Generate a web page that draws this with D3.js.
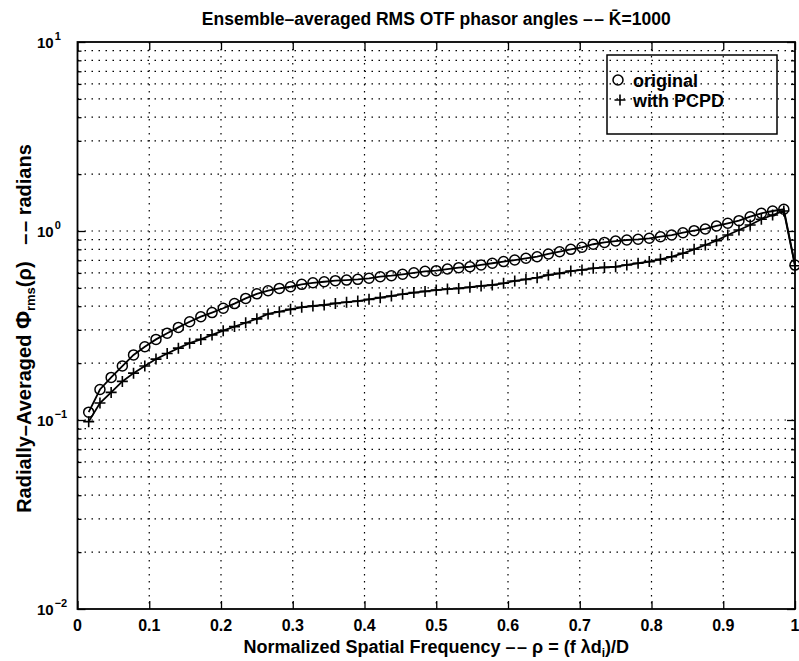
<!DOCTYPE html>
<html>
<head>
<meta charset="utf-8">
<script src="https://cdn.jsdelivr.net/npm/d3@7"></script>
<style>
  body { margin: 0; background: #fff; }
  svg { display: block; }
  text { font-family: "Liberation Sans", Arial, Helvetica, sans-serif; fill: #000; font-weight: bold; }
</style>
</head>
<body>
<svg id="chart" width="799" height="661"></svg>
<script>
// Normalized spatial frequency samples (rho)
const rho = [
  0.0156, 0.0313, 0.0469, 0.0625, 0.0781, 0.0938, 0.1094, 0.1250,
  0.1406, 0.1563, 0.1719, 0.1875, 0.2031, 0.2188, 0.2344, 0.2500,
  0.2656, 0.2813, 0.2969, 0.3125, 0.3281, 0.3438, 0.3594, 0.3750,
  0.3906, 0.4063, 0.4219, 0.4375, 0.4531, 0.4688, 0.4844, 0.5000,
  0.5156, 0.5313, 0.5469, 0.5625, 0.5781, 0.5938, 0.6094, 0.6250,
  0.6406, 0.6563, 0.6719, 0.6875, 0.7031, 0.7188, 0.7344, 0.7500,
  0.7656, 0.7813, 0.7969, 0.8125, 0.8281, 0.8438, 0.8594, 0.8750,
  0.8906, 0.9063, 0.9219, 0.9375, 0.9531, 0.9688, 0.9844, 1.0000
];

// Radially averaged RMS phasor angle, radians
const phiOriginal = [
  0.110, 0.145, 0.168, 0.193, 0.221, 0.244, 0.267, 0.288,
  0.309, 0.331, 0.352, 0.370, 0.390, 0.413, 0.440, 0.465,
  0.483, 0.497, 0.507, 0.522, 0.532, 0.539, 0.546, 0.550,
  0.555, 0.562, 0.573, 0.580, 0.590, 0.601, 0.612, 0.617,
  0.629, 0.640, 0.647, 0.661, 0.675, 0.689, 0.702, 0.717,
  0.731, 0.756, 0.777, 0.800, 0.820, 0.851, 0.870, 0.885,
  0.896, 0.904, 0.915, 0.933, 0.952, 0.979, 1.004, 1.025,
  1.063, 1.099, 1.134, 1.190, 1.241, 1.276, 1.303, 0.660
];

const phiPCPD = [
  0.098, 0.123, 0.140, 0.160, 0.177, 0.193, 0.210, 0.225,
  0.240, 0.255, 0.267, 0.282, 0.297, 0.312, 0.327, 0.343,
  0.364, 0.374, 0.385, 0.395, 0.401, 0.406, 0.414, 0.420,
  0.426, 0.435, 0.444, 0.453, 0.463, 0.472, 0.479, 0.487,
  0.493, 0.497, 0.504, 0.512, 0.518, 0.529, 0.544, 0.555,
  0.566, 0.585, 0.597, 0.614, 0.622, 0.635, 0.642, 0.647,
  0.661, 0.675, 0.689, 0.708, 0.731, 0.762, 0.800, 0.843,
  0.889, 0.952, 1.012, 1.076, 1.153, 1.215, 1.276, 0.655
];

const xTicks = [0, 0.1, 0.2, 0.3, 0.4, 0.5, 0.6, 0.7, 0.8, 0.9, 1];
const xTickLabels = ["0", "0.1", "0.2", "0.3", "0.4", "0.5", "0.6", "0.7", "0.8", "0.9", "1"];
const yDecades = [1e-2, 1e-1, 1e0, 1e1];
const yExponents = ["\u22122", "\u22121", "0", "1"];
const seriesNames = ["original", "with PCPD"];

const svg = d3.select("#chart");
const plot = { left: 77.5, right: 795, top: 42, bottom: 609 };

const x = d3.scaleLinear().domain([0, 1]).range([plot.left, plot.right]);
const y = d3.scaleLog().domain([1e-2, 1e1]).range([plot.bottom, plot.top]);

const allLogTicks = y.ticks();
const minorTicks = allLogTicks.filter(v => !yDecades.some(d => Math.abs(v / d - 1) < 1e-9));

// Dotted grid
const grid = svg.append("g")
  .attr("stroke", "#000")
  .attr("stroke-width", 1.2)
  .attr("stroke-dasharray", "1.5,5.5")
  .attr("fill", "none");

grid.selectAll("line.h")
  .data(allLogTicks.filter(v => v > 1e-2 * 1.0001 && v < 1e1 * 0.9999))
  .join("line")
  .attr("x1", plot.left).attr("x2", plot.right)
  .attr("y1", d => y(d)).attr("y2", d => y(d));

grid.selectAll("line.v")
  .data(xTicks.filter(v => v > 0 && v < 1))
  .join("line")
  .attr("y1", plot.top).attr("y2", plot.bottom)
  .attr("x1", d => x(d)).attr("x2", d => x(d));

// Axes ticks (pointing inward) on all four sides
const axisStyle = g => g.call(s => s.select(".domain").remove())
  .call(s => s.selectAll("line").attr("stroke", "#000").attr("stroke-width", 1.3));

svg.append("g").attr("transform", `translate(0,${plot.bottom})`)
  .call(d3.axisBottom(x).tickValues(xTicks).tickSize(-8).tickFormat(""))
  .call(axisStyle);
svg.append("g").attr("transform", `translate(0,${plot.top})`)
  .call(d3.axisTop(x).tickValues(xTicks).tickSize(-8).tickFormat(""))
  .call(axisStyle);
svg.append("g").attr("transform", `translate(${plot.left},0)`)
  .call(d3.axisLeft(y).tickValues(yDecades).tickSize(-8).tickFormat(""))
  .call(axisStyle);
svg.append("g").attr("transform", `translate(${plot.left},0)`)
  .call(d3.axisLeft(y).tickValues(minorTicks).tickSize(-4).tickFormat(""))
  .call(axisStyle);
svg.append("g").attr("transform", `translate(${plot.right},0)`)
  .call(d3.axisRight(y).tickValues(yDecades).tickSize(-8).tickFormat(""))
  .call(axisStyle);
svg.append("g").attr("transform", `translate(${plot.right},0)`)
  .call(d3.axisRight(y).tickValues(minorTicks).tickSize(-4).tickFormat(""))
  .call(axisStyle);

// Axes box
svg.append("rect")
  .attr("x", plot.left).attr("y", plot.top)
  .attr("width", plot.right - plot.left).attr("height", plot.bottom - plot.top)
  .attr("fill", "none").attr("stroke", "#000").attr("stroke-width", 1.8);

// X tick labels
svg.append("g").selectAll("text")
  .data(xTicks)
  .join("text")
  .attr("x", d => x(d))
  .attr("y", plot.bottom + 22)
  .attr("text-anchor", "middle")
  .attr("font-size", 16)
  .text((d, i) => xTickLabels[i]);

// Y tick labels as powers of ten
const yl = svg.append("g").selectAll("text")
  .data(yDecades)
  .join("text")
  .attr("x", 37)
  .attr("y", d => y(d) + 6)
  .attr("font-size", 15);
yl.append("tspan").text("10");
yl.append("tspan")
  .attr("dy", -8)
  .attr("dx", 1)
  .attr("font-size", 11)
  .text((d, i) => yExponents[i]);

// Series lines and markers
const line = d3.line().x((d, i) => x(rho[i])).y(d => y(d));

svg.append("path").datum(phiOriginal)
  .attr("d", line).attr("fill", "none").attr("stroke", "#000").attr("stroke-width", 1.8);
svg.append("path").datum(phiPCPD)
  .attr("d", line).attr("fill", "none").attr("stroke", "#000").attr("stroke-width", 1.8);

svg.append("g").selectAll("circle")
  .data(phiOriginal)
  .join("circle")
  .attr("cx", (d, i) => x(rho[i]))
  .attr("cy", d => y(d))
  .attr("r", 5)
  .attr("fill", "none")
  .attr("stroke", "#000")
  .attr("stroke-width", 1.5);

const plusSize = 5.5;
const plusPath = d => {
  const cx = x(rho[d.i]), cy = y(d.v);
  return `M${cx - plusSize},${cy}H${cx + plusSize}M${cx},${cy - plusSize}V${cy + plusSize}`;
};
svg.append("g").selectAll("path")
  .data(phiPCPD.map((v, i) => ({ v, i })))
  .join("path")
  .attr("d", plusPath)
  .attr("stroke", "#000")
  .attr("stroke-width", 1.6)
  .attr("fill", "none");

// Legend
const legend = { x: 607, y: 55, w: 170, h: 79 };
svg.append("rect")
  .attr("x", legend.x).attr("y", legend.y)
  .attr("width", legend.w).attr("height", legend.h)
  .attr("fill", "none").attr("stroke", "#000").attr("stroke-width", 1.5);

const legendRows = [80, 100];
svg.append("circle")
  .attr("cx", 618).attr("cy", legendRows[0]).attr("r", 5)
  .attr("fill", "none").attr("stroke", "#000").attr("stroke-width", 1.5);
svg.append("path")
  .attr("d", `M${620 - plusSize},${legendRows[1]}H${620 + plusSize}M620,${legendRows[1] - plusSize}V${legendRows[1] + plusSize}`)
  .attr("stroke", "#000").attr("stroke-width", 1.6);
svg.append("g").selectAll("text")
  .data(seriesNames)
  .join("text")
  .attr("x", 633)
  .attr("y", (d, i) => legendRows[i] + 6.5)
  .attr("font-size", 18)
  .text(d => d);

// Title
svg.append("text")
  .attr("x", (plot.left + plot.right) / 2)
  .attr("y", 25)
  .attr("text-anchor", "middle")
  .attr("font-size", 17.5)
  .text("Ensemble\u2013averaged RMS OTF phasor angles \u2013\u200a\u2013 K\u0304=1000");

// X axis label
const xl = svg.append("text")
  .attr("x", (plot.left + plot.right) / 2)
  .attr("y", 653)
  .attr("text-anchor", "middle")
  .attr("font-size", 18);
xl.append("tspan").text("Normalized Spatial Frequency \u2013\u200a\u2013 \u03c1 = (f \u03bbd");
xl.append("tspan").attr("font-size", 12).attr("dy", 4).text("i");
xl.append("tspan").attr("dy", -4).text(")/D");

// Y axis label
const ylab = svg.append("text")
  .attr("transform", `translate(31,${(plot.top + plot.bottom) / 2 + 3}) rotate(-90)`)
  .attr("text-anchor", "middle")
  .attr("font-size", 20);
ylab.append("tspan").text("Radially\u2013Averaged ");
ylab.append("tspan").attr("font-size", 22).text("\u03a6");
ylab.append("tspan").attr("font-size", 13).attr("dy", 4).text("rms");
ylab.append("tspan").attr("dy", -4).text("(\u03c1)\u00a0\u00a0\u00a0\u2013\u200a\u2013 radians");
</script>
</body>
</html>
